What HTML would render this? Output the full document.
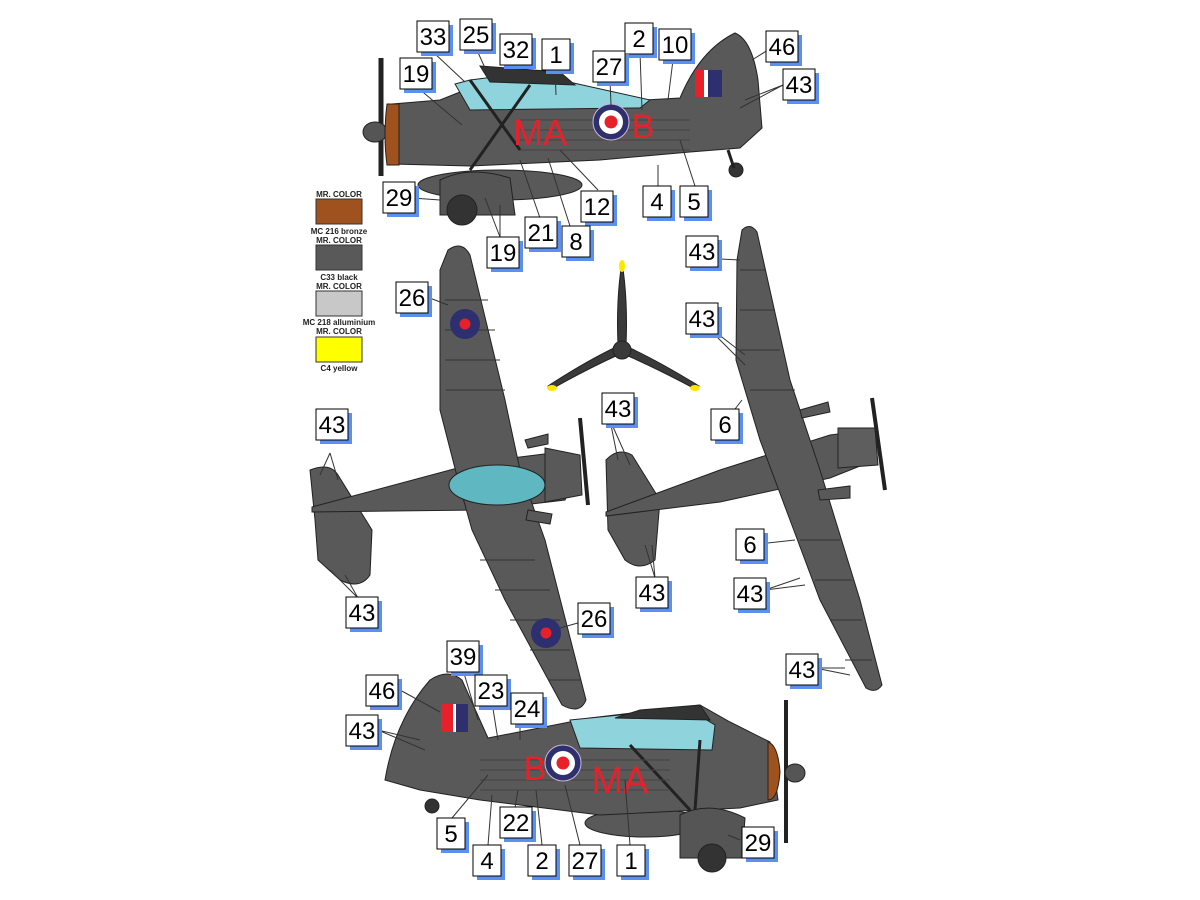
<!DOCTYPE html>
<html><head><meta charset="utf-8"><style>
html,body{margin:0;padding:0;background:#fff;width:1200px;height:900px;overflow:hidden}
svg{display:block}
.lb text{font-family:"Liberation Sans",sans-serif;font-size:24px;fill:#000;text-anchor:middle}
.lg{font-family:"Liberation Sans",sans-serif;font-size:8px;font-weight:bold;fill:#222;text-anchor:middle}
.rd{font-family:"Liberation Sans",sans-serif;fill:#e8202a;text-anchor:middle}
</style></head><body>
<svg width="1200" height="900" viewBox="0 0 1200 900" xmlns="http://www.w3.org/2000/svg">
<defs>
<g id="rnd"><circle r="18" fill="#2d2f6e" stroke="#c9b9d9" stroke-width="1"/><circle r="12" fill="#fff"/><circle r="6.5" fill="#e8202a"/></g>
<g id="rnd2"><circle r="15" fill="#2d2f6e"/><circle r="5.5" fill="#e8202a"/></g>
<g id="b1"><rect x="4" y="4" width="28" height="31" fill="#5b8ff0"/><rect width="28" height="31" fill="#fff" stroke="#000"/></g>
<g id="b2"><rect x="4" y="4" width="32" height="31" fill="#5b8ff0"/><rect width="32" height="31" fill="#fff" stroke="#000"/></g>
</defs>

<!-- TOP SIDE VIEW -->
<g stroke="#222" stroke-width="1">
<line x1="381" y1="58" x2="381" y2="176" stroke-width="5"/>
<ellipse cx="375" cy="132" rx="12" ry="10" fill="#555"/>
<ellipse cx="500" cy="185" rx="82" ry="15" fill="#595959"/>
<path d="M392,104 L440,100 L470,88 L560,80 L645,100 L680,98 Q700,50 735,33 Q752,40 758,80 L762,128 L740,148 L690,152 L600,160 L470,166 L392,164 Z" fill="#595959"/>
<path d="M387,104 L399,104 L399,165 L387,165 Q383,135 387,104 Z" fill="#a0521e"/>
<path d="M455,84 L470,80 L510,75 L560,80 L650,100 L640,108 L470,110 Z" fill="#8fd3dc"/>
<path d="M480,66 L560,72 L575,85 L490,82 Z" fill="#333"/>
<path d="M440,180 Q470,165 510,178 L515,215 L440,215 Z" fill="#555"/>
<circle cx="462" cy="210" r="15" fill="#333"/>
<path d="M470,80 L520,150 M530,85 L470,170" stroke-width="3"/>
<circle cx="736" cy="170" r="7" fill="#333"/>
<line x1="728" y1="150" x2="734" y2="168" stroke-width="3"/>
<g stroke="#444"><line x1="520" y1="120" x2="690" y2="120"/><line x1="520" y1="130" x2="690" y2="130"/><line x1="520" y1="140" x2="690" y2="140"/><line x1="520" y1="150" x2="690" y2="150"/></g>
<path d="M695,70 h9 v27 h-9z" fill="#e8202a" stroke="none"/><path d="M704,70 h4 v27 h-4z" fill="#fff" stroke="none"/><path d="M708,70 h14 v27 h-14z" fill="#2d2f6e" stroke="none"/>
</g>
<use href="#rnd" x="611" y="122"/>
<text class="rd" x="540" y="145" font-size="36">MA</text>
<text class="rd" x="643" y="138" font-size="34">B</text>

<!-- PROPELLER -->
<path d="M622,262 Q628,300 626,345 L618,345 Q616,300 622,262Z" fill="#3a3a3a" stroke="#222"/>
<path d="M618,355 Q585,370 550,390 L548,386 Q585,362 614,348Z" fill="#3a3a3a" stroke="#222"/>
<path d="M626,355 Q660,370 697,390 L699,386 Q660,362 630,348Z" fill="#3a3a3a" stroke="#222"/>
<circle cx="622" cy="350" r="9" fill="#3a3a3a" stroke="#222"/>
<ellipse cx="622" cy="266" rx="3" ry="6" fill="#ffe600"/>
<ellipse cx="552" cy="388" rx="5" ry="3" fill="#ffe600"/>
<ellipse cx="695" cy="388" rx="5" ry="3" fill="#ffe600"/>

<!-- LEFT TOP-VIEW PLANE -->
<g stroke="#222" stroke-width="1" fill="#595959">
<path d="M310,470 Q330,462 338,475 L372,530 L370,575 Q360,590 340,580 L318,560 L315,520 Z"/>
<path d="M312,507 L480,462 L560,452 L578,470 L565,500 L480,510 L312,512 Z"/>
<path d="M448,250 Q462,240 470,255 L505,400 L520,470 L545,540 L586,700 Q580,715 562,705 L505,600 L472,530 L458,480 L440,410 L440,270 Z"/>
<path d="M545,448 L580,455 L582,495 L545,502 Z"/>
<path d="M525,440 L548,434 L548,444 L528,448Z M528,510 L552,514 L550,524 L526,520Z"/>
<ellipse cx="497" cy="485" rx="48" ry="20" fill="#5fb7c2"/>
<line x1="580" y1="418" x2="588" y2="505" stroke-width="4"/>
<g stroke="#333"><line x1="445" y1="300" x2="488" y2="300"/><line x1="445" y1="330" x2="495" y2="330"/><line x1="445" y1="360" x2="500" y2="360"/><line x1="446" y1="390" x2="505" y2="390"/><line x1="480" y1="560" x2="535" y2="560"/><line x1="495" y1="590" x2="550" y2="590"/><line x1="510" y1="620" x2="560" y2="620"/><line x1="530" y1="650" x2="570" y2="650"/><line x1="548" y1="680" x2="580" y2="680"/></g>
</g>
<use href="#rnd2" x="465" y="324"/>
<use href="#rnd2" x="546" y="633"/>

<!-- RIGHT TOP-VIEW PLANE -->
<g stroke="#222" stroke-width="1" fill="#595959">
<path d="M606,460 Q618,447 632,455 L660,500 L655,560 Q640,572 625,560 L608,530 Z"/>
<path d="M606,512 L720,470 L830,435 L870,430 L875,460 L830,478 L720,502 L606,516 Z"/>
<path d="M742,230 Q750,222 757,232 L790,380 L820,470 L860,600 L882,685 Q876,694 866,688 L820,600 L790,520 L760,440 L736,360 L737,260 Z"/>
<path d="M800,410 L828,402 L830,412 L802,418Z M818,490 L850,486 L850,498 L820,500Z"/>
<path d="M838,428 L875,428 L878,465 L838,468Z" fill="#5e5e5e"/>
<line x1="872" y1="398" x2="885" y2="490" stroke-width="4"/>
<g stroke="#333"><line x1="740" y1="270" x2="765" y2="270"/><line x1="740" y1="310" x2="775" y2="310"/><line x1="740" y1="350" x2="780" y2="350"/><line x1="750" y1="390" x2="795" y2="390"/><line x1="800" y1="540" x2="840" y2="540"/><line x1="815" y1="580" x2="852" y2="580"/><line x1="830" y1="620" x2="862" y2="620"/><line x1="845" y1="660" x2="872" y2="660"/></g>
</g>

<!-- BOTTOM SIDE VIEW -->
<g stroke="#222" stroke-width="1">
<ellipse cx="645" cy="823" rx="60" ry="14" fill="#595959"/>
<path d="M385,780 Q395,720 430,680 Q448,668 462,680 L488,738 L590,718 L700,705 L730,722 L770,742 L778,800 L740,808 L600,815 L480,800 L420,790 Z" fill="#595959"/>
<path d="M768,742 Q778,745 780,772 Q778,800 768,800 Z" fill="#a0521e"/>
<path d="M570,720 L620,715 L690,710 L715,725 L712,750 L580,748 Z" fill="#8fd3dc"/>
<path d="M615,718 L640,710 L700,705 L710,720Z" fill="#333"/>
<path d="M680,815 Q710,800 745,818 L742,858 L680,858 Z" fill="#555"/>
<circle cx="712" cy="858" r="14" fill="#333"/>
<path d="M630,745 L690,810 M700,740 L695,810" stroke-width="3"/>
<circle cx="432" cy="806" r="7" fill="#333"/>
<line x1="786" y1="700" x2="786" y2="843" stroke-width="4"/>
<ellipse cx="795" cy="773" rx="10" ry="9" fill="#555"/>
<g stroke="#444"><line x1="480" y1="760" x2="670" y2="760"/><line x1="480" y1="770" x2="670" y2="770"/><line x1="480" y1="780" x2="670" y2="780"/><line x1="480" y1="790" x2="670" y2="790"/></g>
<path d="M441,704 h12 v28 h-12z" fill="#e8202a" stroke="none"/><path d="M453,704 h3 v28 h-3z" fill="#fff" stroke="none"/><path d="M456,704 h12 v28 h-12z" fill="#2d2f6e" stroke="none"/>
</g>
<use href="#rnd" x="563" y="763"/>
<text class="rd" x="535" y="780" font-size="34">B</text>
<text class="rd" x="620" y="793" font-size="38">MA</text>

<!-- LEGEND -->
<text class="lg" x="339" y="197">MR. COLOR</text>
<rect x="316" y="199" width="46" height="25" fill="#a0521e" stroke="#333"/>
<text class="lg" x="339" y="234">MC 216 bronze</text>
<text class="lg" x="339" y="243">MR. COLOR</text>
<rect x="316" y="245" width="46" height="25" fill="#595959" stroke="#333"/>
<text class="lg" x="339" y="280">C33 black</text>
<text class="lg" x="339" y="289">MR. COLOR</text>
<rect x="316" y="291" width="46" height="25" fill="#c8c8c8" stroke="#333"/>
<text class="lg" x="339" y="325">MC 218 alluminium</text>
<text class="lg" x="339" y="334">MR. COLOR</text>
<rect x="316" y="337" width="46" height="25" fill="#ffff00" stroke="#333"/>
<text class="lg" x="339" y="371">C4 yellow</text>

<!-- leader lines -->
<g stroke="#333" stroke-width="1" fill="none">
<path d="M433,52 L465,82 M476,48 L485,68 M418,88 L462,125 M555,70 L556,95 M640,52 L642,110 M673,60 L668,100 M610,80 L611,105 M768,50 L752,60 M783,85 L745,100 M783,85 L740,108 M412,198 L440,200 M598,190 L560,150 M658,186 L658,165 M695,186 L680,140 M540,218 L520,160 M570,226 L548,158 M500,237 L485,198 M500,237 L500,205"/>
<path d="M427,297 L448,305 M700,258 L740,260 M700,320 L745,355 M700,320 L745,365 M725,422 L742,400 M330,453 L320,475 M330,453 L338,480 M358,598 L330,570 M358,598 L345,575 M592,619 L560,628 M610,420 L618,460 M610,420 L630,465 M655,578 L645,545 M655,578 L652,545 M750,545 L795,540 M765,590 L800,578 M765,590 L805,585 M815,668 L845,668 M815,668 L850,675"/>
<path d="M400,690 L440,712 M378,730 L420,740 M378,730 L425,750 M463,670 L478,720 M490,690 L498,740 M520,710 L520,740 M452,818 L488,775 M488,845 L492,795 M515,808 L518,790 M542,845 L536,790 M580,845 L565,785 M630,845 L625,780 M740,840 L728,835"/>
</g>

<!-- LABELS -->
<g class="lb">
<g transform="translate(417,21)"><use href="#b2"/><text x="16" y="24">33</text></g>
<g transform="translate(460,19)"><use href="#b2"/><text x="16" y="24">25</text></g>
<g transform="translate(500,34)"><use href="#b2"/><text x="16" y="24">32</text></g>
<g transform="translate(542,39)"><use href="#b1"/><text x="14" y="24">1</text></g>
<g transform="translate(625,23)"><use href="#b1"/><text x="14" y="24">2</text></g>
<g transform="translate(659,29)"><use href="#b2"/><text x="16" y="24">10</text></g>
<g transform="translate(593,51)"><use href="#b2"/><text x="16" y="24">27</text></g>
<g transform="translate(766,31)"><use href="#b2"/><text x="16" y="24">46</text></g>
<g transform="translate(783,69)"><use href="#b2"/><text x="16" y="24">43</text></g>
<g transform="translate(400,58)"><use href="#b2"/><text x="16" y="24">19</text></g>
<g transform="translate(383,182)"><use href="#b2"/><text x="16" y="24">29</text></g>
<g transform="translate(581,191)"><use href="#b2"/><text x="16" y="24">12</text></g>
<g transform="translate(643,186)"><use href="#b1"/><text x="14" y="24">4</text></g>
<g transform="translate(680,186)"><use href="#b1"/><text x="14" y="24">5</text></g>
<g transform="translate(525,217)"><use href="#b2"/><text x="16" y="24">21</text></g>
<g transform="translate(562,226)"><use href="#b1"/><text x="14" y="24">8</text></g>
<g transform="translate(487,237)"><use href="#b2"/><text x="16" y="24">19</text></g>

<g transform="translate(396,282)"><use href="#b2"/><text x="16" y="24">26</text></g>
<g transform="translate(686,236)"><use href="#b2"/><text x="16" y="24">43</text></g>
<g transform="translate(686,303)"><use href="#b2"/><text x="16" y="24">43</text></g>
<g transform="translate(602,393)"><use href="#b2"/><text x="16" y="24">43</text></g>
<g transform="translate(711,409)"><use href="#b1"/><text x="14" y="24">6</text></g>
<g transform="translate(316,409)"><use href="#b2"/><text x="16" y="24">43</text></g>
<g transform="translate(346,597)"><use href="#b2"/><text x="16" y="24">43</text></g>
<g transform="translate(578,603)"><use href="#b2"/><text x="16" y="24">26</text></g>
<g transform="translate(736,529)"><use href="#b1"/><text x="14" y="24">6</text></g>
<g transform="translate(636,577)"><use href="#b2"/><text x="16" y="24">43</text></g>
<g transform="translate(734,578)"><use href="#b2"/><text x="16" y="24">43</text></g>
<g transform="translate(786,654)"><use href="#b2"/><text x="16" y="24">43</text></g>

<g transform="translate(447,641)"><use href="#b2"/><text x="16" y="24">39</text></g>
<g transform="translate(366,675)"><use href="#b2"/><text x="16" y="24">46</text></g>
<g transform="translate(475,675)"><use href="#b2"/><text x="16" y="24">23</text></g>
<g transform="translate(511,693)"><use href="#b2"/><text x="16" y="24">24</text></g>
<g transform="translate(346,715)"><use href="#b2"/><text x="16" y="24">43</text></g>
<g transform="translate(437,818)"><use href="#b1"/><text x="14" y="24">5</text></g>
<g transform="translate(500,807)"><use href="#b2"/><text x="16" y="24">22</text></g>
<g transform="translate(473,845)"><use href="#b1"/><text x="14" y="24">4</text></g>
<g transform="translate(528,845)"><use href="#b1"/><text x="14" y="24">2</text></g>
<g transform="translate(569,845)"><use href="#b2"/><text x="16" y="24">27</text></g>
<g transform="translate(617,845)"><use href="#b1"/><text x="14" y="24">1</text></g>
<g transform="translate(742,827)"><use href="#b2"/><text x="16" y="24">29</text></g>
</g>
</svg>
</body></html>
